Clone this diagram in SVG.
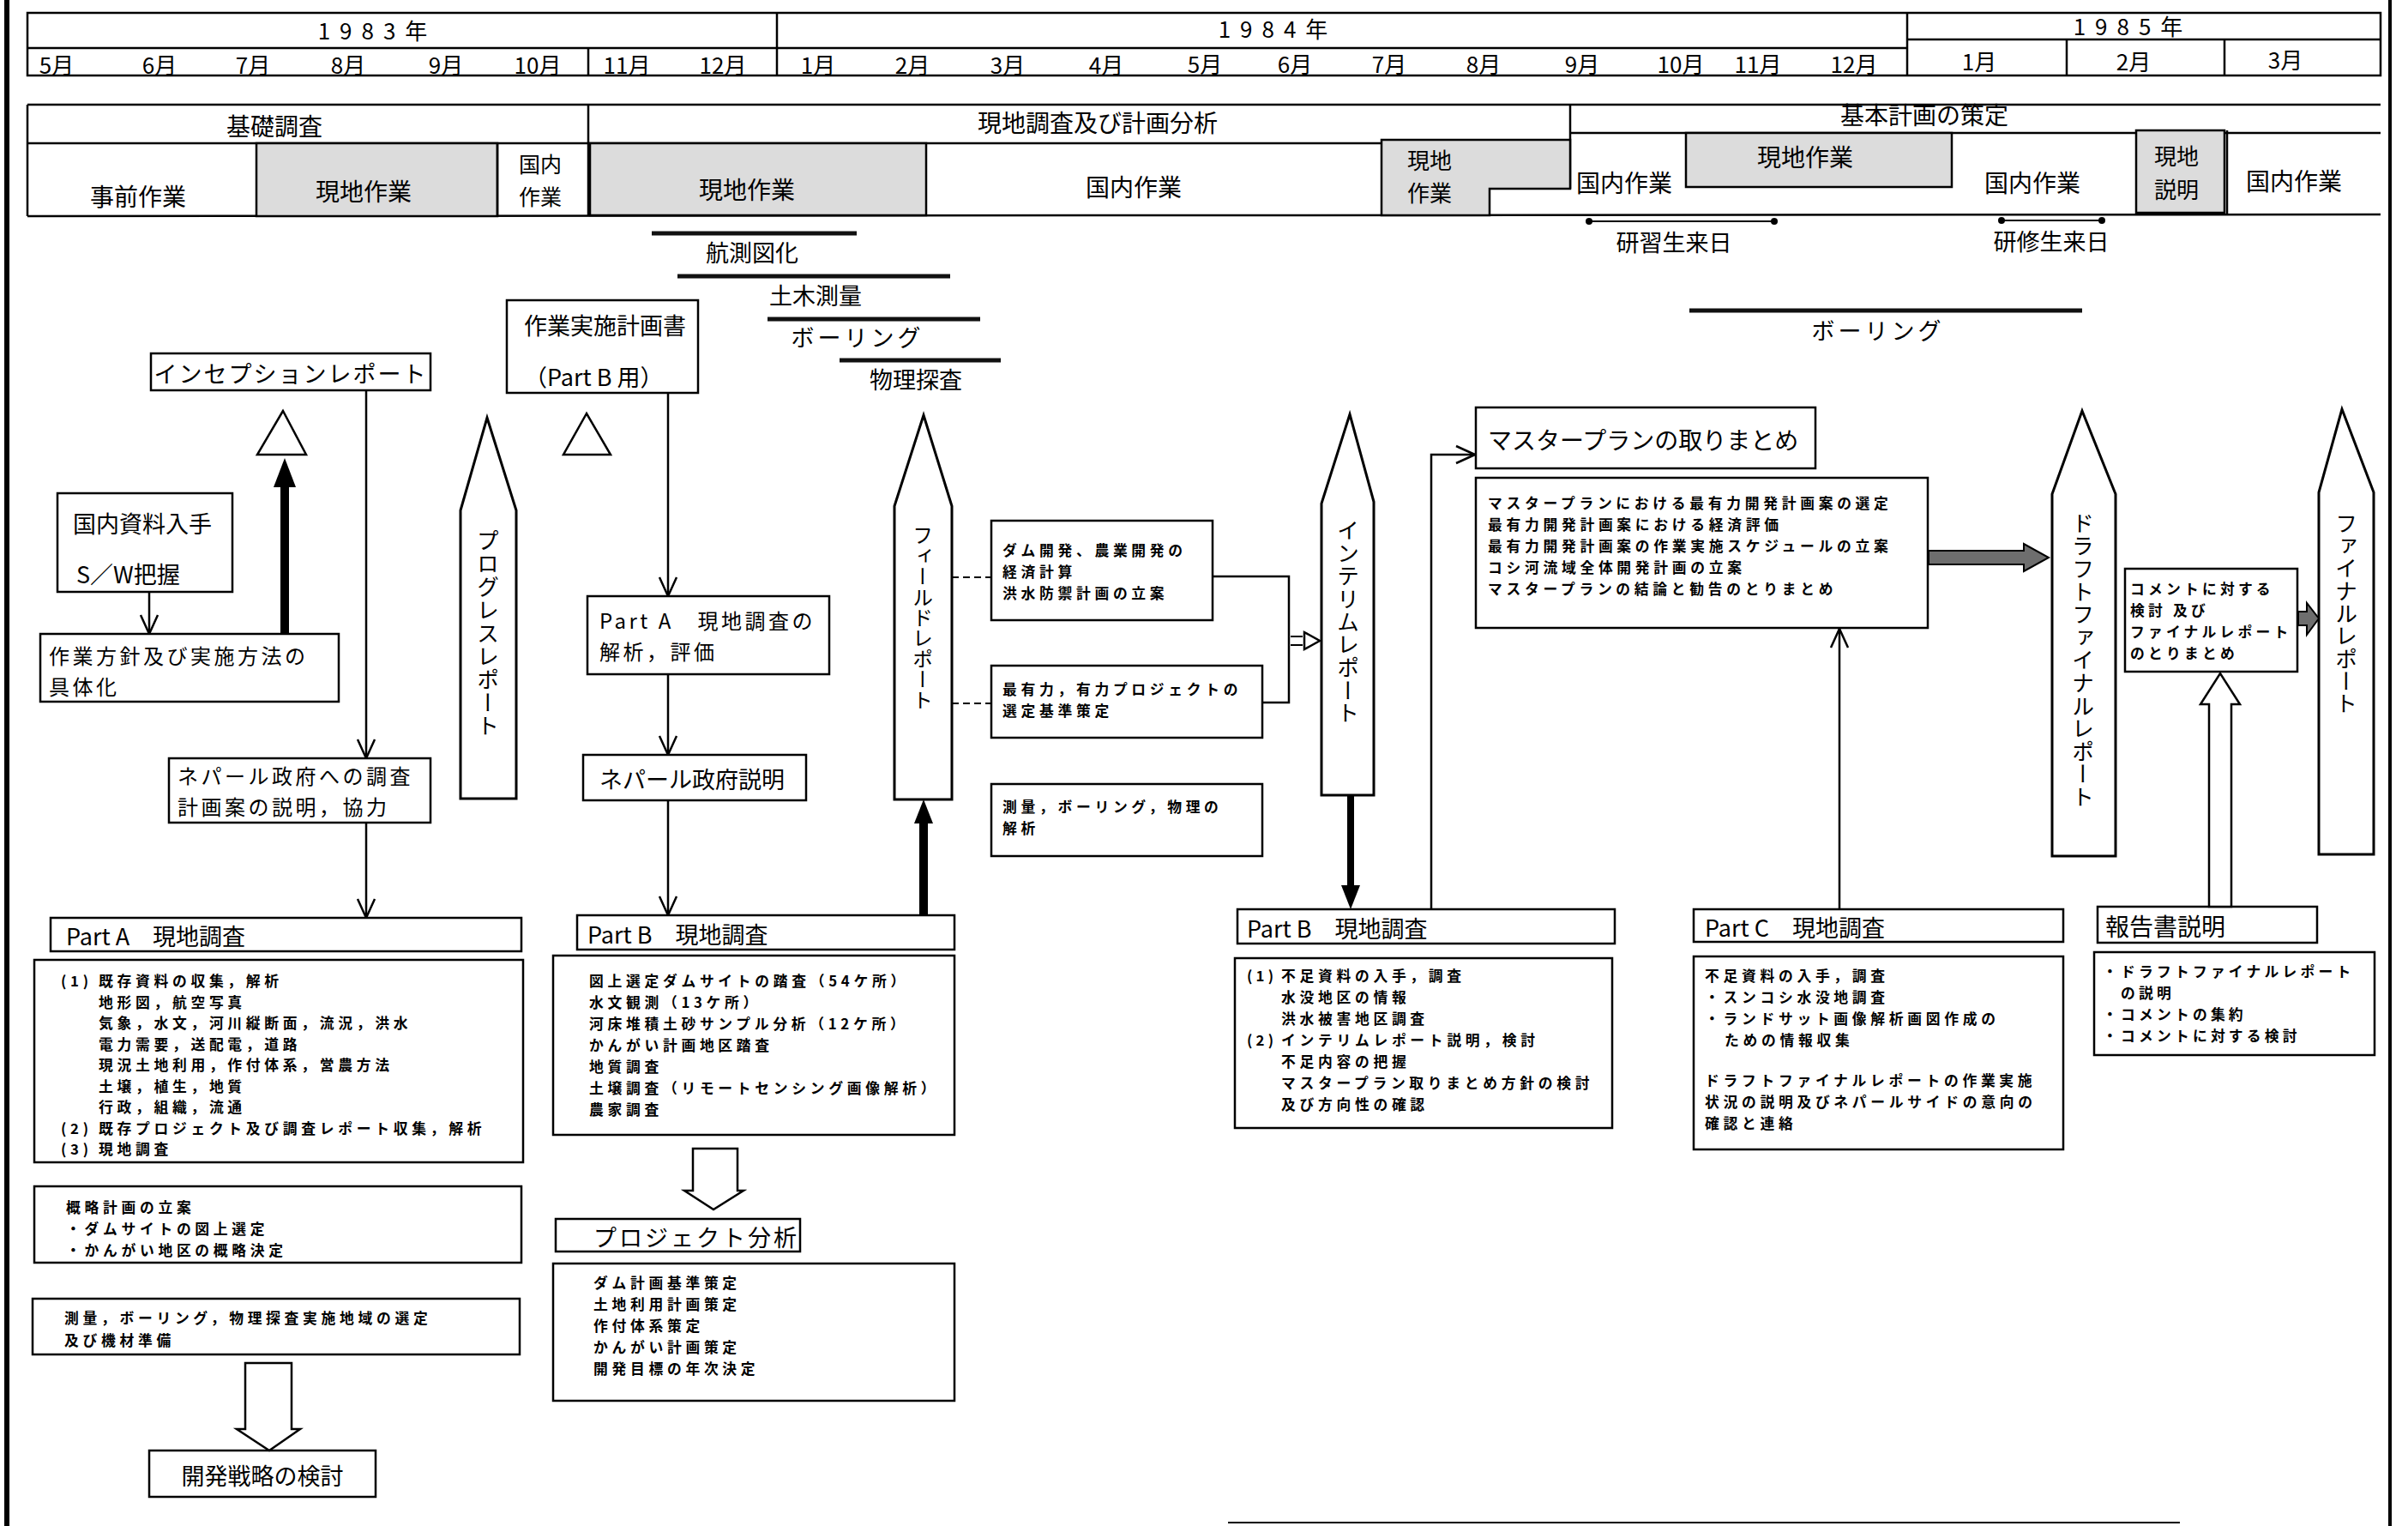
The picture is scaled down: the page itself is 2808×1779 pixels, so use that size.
<svg xmlns="http://www.w3.org/2000/svg" width="2808" height="1779" viewBox="0 0 2808 1779">
<defs>
<style>
text{font-family:"Noto Sans CJK JP","Noto Sans",sans-serif;fill:#000;dominant-baseline:central}
.h{font-size:28px}
.mo{font-size:26px}
.m{font-size:27px}
.m2{font-size:24px;letter-spacing:3.5px}
.s{font-size:16.8px;font-weight:700;letter-spacing:4.7px}
.s2{font-size:16.8px;font-weight:700;letter-spacing:4.2px}
.c{text-anchor:middle}
.v{writing-mode:vertical-rl;dominant-baseline:central;font-size:26px}
.b{fill:#fff;stroke:#000;stroke-width:2.5}
.l{fill:none;stroke:#000;stroke-width:2.5}
.sh{fill:#dcdcdc;stroke:#000;stroke-width:2.5}
.bar{stroke:#111;stroke-width:5}
.pen{fill:#fff;stroke:#000;stroke-width:3}
.thick{fill:#000;stroke:none}
.hatch{fill:#6e6e6e;stroke:#000;stroke-width:2}
</style>
<marker id="v" viewBox="0 0 24 24" refX="23" refY="12" markerWidth="24" markerHeight="24" markerUnits="userSpaceOnUse" orient="auto">
<path d="M1,2 L23,12 L1,22" fill="none" stroke="#000" stroke-width="2.5"/>
</marker>
</defs>

<g id="page-border">
<line x1="8" y1="0" x2="8" y2="1779" stroke="#000" stroke-width="6"/>
<line x1="2787" y1="0" x2="2787" y2="1779" stroke="#000" stroke-width="4"/>
<line x1="1432" y1="1775" x2="2542" y2="1775" stroke="#000" stroke-width="2"/>
</g>

<g id="timeline">
<rect x="32" y="15" width="2744" height="73" class="l"/>
<line x1="32" y1="56" x2="2224" y2="56" class="l"/>
<line x1="2224" y1="46" x2="2776" y2="46" class="l"/>
<line x1="906" y1="15" x2="906" y2="88" class="l"/>
<line x1="2224" y1="15" x2="2224" y2="88" class="l"/>
<line x1="686" y1="56" x2="686" y2="88" class="l"/>
<line x1="2410" y1="46" x2="2410" y2="88" class="l"/>
<line x1="2594" y1="46" x2="2594" y2="88" class="l"/>
<text x="440" y="34" class="mo c" letter-spacing="11">1983年</text>
<text x="1490" y="32" class="mo c" letter-spacing="11">1984年</text>
<text x="2487" y="29" class="mo c" letter-spacing="11">1985年</text>
<text x="66" y="74" class="mo c">5月</text>
<text x="186" y="74" class="mo c">6月</text>
<text x="295" y="74" class="mo c">7月</text>
<text x="406" y="74" class="mo c">8月</text>
<text x="520" y="74" class="mo c">9月</text>
<text x="627" y="74" class="mo c">10月</text>
<text x="731" y="74" class="mo c">11月</text>
<text x="843" y="74" class="mo c">12月</text>
<text x="954" y="74" class="mo c">1月</text>
<text x="1064" y="74" class="mo c">2月</text>
<text x="1175" y="74" class="mo c">3月</text>
<text x="1290" y="74" class="mo c">4月</text>
<text x="1405" y="73" class="mo c">5月</text>
<text x="1510" y="73" class="mo c">6月</text>
<text x="1620" y="73" class="mo c">7月</text>
<text x="1730" y="73" class="mo c">8月</text>
<text x="1845" y="73" class="mo c">9月</text>
<text x="1960" y="73" class="mo c">10月</text>
<text x="2050" y="73" class="mo c">11月</text>
<text x="2162" y="73" class="mo c">12月</text>
<text x="2308" y="70" class="mo c">1月</text>
<text x="2488" y="70" class="mo c">2月</text>
<text x="2665" y="68" class="mo c">3月</text>
</g>

<g id="phases">
<line x1="32" y1="122" x2="2776" y2="122" class="l"/>
<line x1="32" y1="122" x2="32" y2="252" class="l"/>
<line x1="32" y1="167" x2="1831" y2="167" class="l"/>
<line x1="1831" y1="155" x2="2776" y2="155" class="l"/>
<line x1="686" y1="122" x2="686" y2="252" class="l"/>
<line x1="1831" y1="122" x2="1831" y2="220" class="l"/>
<line x1="32" y1="252" x2="2776" y2="250" class="l"/>
<text x="320" y="146" class="h c">基礎調査</text>
<text x="1280" y="142" class="h c">現地調査及び計画分析</text>
<text x="2244" y="133" class="h c">基本計画の策定</text>
<rect x="299" y="167" width="281" height="85" class="sh"/>
<line x1="580" y1="167" x2="580" y2="252" class="l"/>
<rect x="688" y="167" width="392" height="84" class="sh"/>
<polygon points="1611,163 1831,163 1831,220 1737,220 1737,251 1611,251" class="sh"/>
<rect x="1966" y="155" width="310" height="63" class="sh"/>
<rect x="2491" y="152" width="103" height="96" class="sh"/>
<line x1="2597" y1="152" x2="2597" y2="249" class="l"/>
<text x="161" y="228" class="h c">事前作業</text>
<text x="424" y="222" class="h c">現地作業</text>
<text x="630" y="190" class="c" style="font-size:25px">国内</text>
<text x="630" y="228" class="c" style="font-size:25px">作業</text>
<text x="871" y="220" class="h c">現地作業</text>
<text x="1322" y="217" class="h c">国内作業</text>
<text x="1667" y="185" class="mo c">現地</text>
<text x="1667" y="223" class="mo c">作業</text>
<text x="1894" y="212" class="h c">国内作業</text>
<text x="2105" y="182" class="h c">現地作業</text>
<text x="2370" y="212" class="h c">国内作業</text>
<text x="2538" y="180" class="mo c">現地</text>
<text x="2538" y="219" class="mo c">説明</text>
<text x="2675" y="210" class="h c">国内作業</text>
</g>

<g id="schedule-bars">
<line x1="760" y1="272" x2="999" y2="272" class="bar"/>
<text x="877" y="293" class="m c">航測図化</text>
<line x1="790" y1="322" x2="1108" y2="322" class="bar"/>
<text x="951" y="343" class="m c">土木測量</text>
<line x1="895" y1="372" x2="1143" y2="372" class="bar"/>
<text x="1000" y="392" class="m c" letter-spacing="4">ボーリング</text>
<line x1="979" y1="420" x2="1167" y2="420" class="bar"/>
<text x="1068" y="441" class="m c">物理探査</text>
<line x1="1970" y1="362" x2="2428" y2="362" class="bar"/>
<text x="2190" y="384" class="m c" letter-spacing="4">ボーリング</text>
</g>

<g id="trainees">
<line x1="1853" y1="258" x2="2069" y2="258" stroke="#000" stroke-width="2"/>
<circle cx="1853" cy="258" r="4"/><circle cx="2069" cy="258" r="4"/>
<text x="1952" y="281" class="m c">研習生来日</text>
<line x1="2334" y1="257" x2="2451" y2="257" stroke="#000" stroke-width="2"/>
<circle cx="2334" cy="257" r="4"/><circle cx="2451" cy="257" r="4"/>
<text x="2392" y="280" class="m c">研修生来日</text>
</g>

<g id="inception-report">
<rect x="176" y="412" width="326" height="43" class="b"/>
<text x="339" y="434" class="m c" letter-spacing="2">インセプションレポート</text>
</g>
<g id="milestone-1"><polygon points="330,479 300,530 357,530" class="b"/></g>
<g id="domestic-data">
<rect x="67" y="575" width="204" height="115" class="b"/>
<text x="85" y="609" class="m">国内資料入手</text>
<text x="89" y="668" class="m">S／W把握</text>
</g>
<g id="work-policy">
<rect x="47" y="739" width="348" height="79" class="b"/>
<text x="57" y="763" class="m2">作業方針及び実施方法の</text>
<text x="57" y="799" class="m2">具体化</text>
</g>
<g id="nepal-explain-1">
<rect x="197" y="884" width="305" height="75" class="b"/>
<text x="207" y="903" class="m2" letter-spacing="4">ネパール政府への調査</text>
<text x="207" y="939" class="m2" letter-spacing="4">計画案の説明，協力</text>
</g>
<g id="progress-report">
<polygon points="568,487 602,595 602,931 537,931 537,595" class="pen"/>
<text x="569" y="617" class="v" letter-spacing="1">プログレスレポート</text>
</g>
<g id="partA-survey">
<rect x="59" y="1070" width="549" height="39" class="b"/>
<text x="77" y="1090" class="m">Part A　現地調査</text>
</g>
<g id="partA-details">
<rect x="40" y="1119" width="570" height="236" class="b"/>
<text x="71" y="1143" class="s">(1)</text><text x="115" y="1143" class="s">既存資料の収集，解析</text>
<text x="115" y="1167.5" class="s">地形図，航空写真</text>
<text x="115" y="1192" class="s">気象，水文，河川縦断面，流況，洪水</text>
<text x="115" y="1216.5" class="s">電力需要，送配電，道路</text>
<text x="115" y="1241" class="s">現況土地利用，作付体系，営農方法</text>
<text x="115" y="1265.5" class="s">土壌，植生，地質</text>
<text x="115" y="1290" class="s">行政，組織，流通</text>
<text x="71" y="1314.5" class="s">(2)</text><text x="115" y="1314.5" class="s">既存プロジェクト及び調査レポート収集，解析</text>
<text x="71" y="1339" class="s">(3)</text><text x="115" y="1339" class="s">現地調査</text>
</g>
<g id="outline-plan">
<rect x="40" y="1383" width="568" height="89" class="b"/>
<text x="77" y="1407" class="s">概略計画の立案</text>
<text x="77" y="1432" class="s">・ダムサイトの図上選定</text>
<text x="77" y="1457" class="s">・かんがい地区の概略決定</text>
</g>
<g id="survey-area">
<rect x="38" y="1514" width="568" height="65" class="b"/>
<text x="75" y="1536" class="s">測量，ボーリング，物理探査実施地域の選定</text>
<text x="75" y="1562" class="s">及び機材準備</text>
</g>
<g id="dev-strategy">
<rect x="174" y="1691" width="264" height="54" class="b"/>
<text x="306" y="1719" class="m c">開発戦略の検討</text>
</g>

<g id="work-plan">
<rect x="591" y="350" width="223" height="108" class="b"/>
<text x="611" y="378" class="m">作業実施計画書</text>
<text x="611" y="438" class="m">（Part B 用）</text>
</g>
<g id="milestone-2"><polygon points="684,482 657,530 712,530" class="b"/></g>
<g id="partA-analysis">
<rect x="685" y="695" width="282" height="91" class="b"/>
<text x="699" y="722" class="m2" letter-spacing="3">Part A　現地調査の</text>
<text x="699" y="758" class="m2" letter-spacing="3">解析，評価</text>
</g>
<g id="nepal-explain-2">
<rect x="680" y="880" width="260" height="53" class="b"/>
<text x="699" y="907" class="m">ネパール政府説明</text>
</g>
<g id="partB-survey-1">
<rect x="673" y="1067" width="440" height="40" class="b"/>
<text x="685" y="1088" class="m">Part B　現地調査</text>
</g>
<g id="partB-details-1">
<rect x="645" y="1114" width="468" height="209" class="b"/>
<text x="687" y="1143" class="s">図上選定ダムサイトの踏査（54ケ所）</text>
<text x="687" y="1168" class="s">水文観測（13ケ所）</text>
<text x="687" y="1193" class="s">河床堆積土砂サンプル分析（12ケ所）</text>
<text x="687" y="1218" class="s">かんがい計画地区踏査</text>
<text x="687" y="1243" class="s">地質調査</text>
<text x="687" y="1268" class="s">土壌調査（リモートセンシング画像解析）</text>
<text x="687" y="1293" class="s">農家調査</text>
</g>
<g id="project-analysis">
<rect x="648" y="1421" width="285" height="38" class="b"/>
<text x="692" y="1441" class="m" letter-spacing="3">プロジェクト分析</text>
</g>
<g id="project-details">
<rect x="645" y="1473" width="468" height="160" class="b"/>
<text x="692" y="1495" class="s">ダム計画基準策定</text>
<text x="692" y="1520" class="s">土地利用計画策定</text>
<text x="692" y="1545" class="s">作付体系策定</text>
<text x="692" y="1570" class="s">かんがい計画策定</text>
<text x="692" y="1595" class="s">開発目標の年次決定</text>
</g>
<g id="field-report">
<polygon points="1077,484 1110,590 1110,932 1043,932 1043,590" class="pen"/>
<text x="1076" y="612" class="v" style="font-size:24px">フィールドレポート</text>
</g>
<g id="economic-calc">
<rect x="1156" y="607" width="258" height="116" class="b"/>
<text x="1169" y="641" class="s">ダム開発、農業開発の</text>
<text x="1169" y="666" class="s">経済計算</text>
<text x="1169" y="691" class="s">洪水防禦計画の立案</text>
</g>
<g id="selection-criteria">
<rect x="1156" y="776" width="316" height="84" class="b"/>
<text x="1169" y="803" class="s">最有力，有力プロジェクトの</text>
<text x="1169" y="828" class="s">選定基準策定</text>
</g>
<g id="survey-analysis">
<rect x="1156" y="914" width="316" height="84" class="b"/>
<text x="1169" y="940" class="s">測量，ボーリング，物理の</text>
<text x="1169" y="965" class="s">解析</text>
</g>
<g id="interim-report">
<polygon points="1574,483 1602,585 1602,927 1541,927 1541,587" class="pen"/>
<text x="1572" y="605" class="v" letter-spacing="0.7">インテリムレポート</text>
</g>
<g id="master-plan">
<rect x="1721" y="475" width="396" height="71" class="b"/>
<text x="1735" y="512" class="h">マスタープランの取りまとめ</text>
</g>
<g id="master-details">
<rect x="1721" y="557" width="527" height="175" class="b"/>
<text x="1735" y="586" class="s">マスタープランにおける最有力開発計画案の選定</text>
<text x="1735" y="611" class="s">最有力開発計画案における経済評価</text>
<text x="1735" y="636" class="s">最有力開発計画案の作業実施スケジュールの立案</text>
<text x="1735" y="661" class="s">コシ河流域全体開発計画の立案</text>
<text x="1735" y="686" class="s">マスタープランの結論と勧告のとりまとめ</text>
</g>
<g id="draft-final-report">
<polygon points="2428,479 2467,576 2467,998 2393,998 2393,576" class="pen"/>
<text x="2429" y="597" class="v" letter-spacing="0.6">ドラフトファイナルレポート</text>
</g>
<g id="comment-review">
<rect x="2478" y="663" width="201" height="120" class="b"/>
<text x="2484" y="686" class="s2">コメントに対する</text>
<text x="2484" y="711" class="s2">検討 及び</text>
<text x="2484" y="736" class="s2">ファイナルレポート</text>
<text x="2484" y="761" class="s2">のとりまとめ</text>
</g>
<g id="final-report">
<polygon points="2731,477 2768,574 2768,996 2704,996 2704,574" class="pen"/>
<text x="2736" y="597" class="v" letter-spacing="0.3">ファイナルレポート</text>
</g>
<g id="partB-survey-2">
<rect x="1443" y="1060" width="440" height="40" class="b"/>
<text x="1454" y="1081" class="m">Part B　現地調査</text>
</g>
<g id="partB-details-2">
<rect x="1440" y="1117" width="440" height="198" class="b"/>
<text x="1454" y="1137" class="s2">(1)</text><text x="1494" y="1137" class="s">不足資料の入手，調査</text>
<text x="1494" y="1162" class="s">水没地区の情報</text>
<text x="1494" y="1187" class="s">洪水被害地区調査</text>
<text x="1454" y="1212" class="s2">(2)</text><text x="1494" y="1212" class="s">インテリムレポート説明，検討</text>
<text x="1494" y="1237" class="s">不足内容の把握</text>
<text x="1494" y="1262" class="s">マスタープラン取りまとめ方針の検討</text>
<text x="1494" y="1287" class="s">及び方向性の確認</text>
</g>
<g id="partC-survey">
<rect x="1975" y="1060" width="431" height="38" class="b"/>
<text x="1988" y="1080" class="m">Part C　現地調査</text>
</g>
<g id="partC-details">
<rect x="1975" y="1115" width="431" height="225" class="b"/>
<text x="1988" y="1137" class="s">不足資料の入手，調査</text>
<text x="1988" y="1162" class="s">・スンコシ水没地調査</text>
<text x="1988" y="1187" class="s">・ランドサット画像解析画図作成の</text>
<text x="2011" y="1212" class="s">ための情報収集</text>
<text x="1988" y="1259" class="s">ドラフトファイナルレポートの作業実施</text>
<text x="1988" y="1284" class="s">状況の説明及びネパールサイドの意向の</text>
<text x="1988" y="1309" class="s">確認と連絡</text>
</g>
<g id="report-explain">
<rect x="2446" y="1057" width="256" height="42" class="b"/>
<text x="2455" y="1079" class="h">報告書説明</text>
</g>
<g id="report-explain-details">
<rect x="2442" y="1110" width="327" height="120" class="b"/>
<text x="2452" y="1132" class="s2">・ドラフトファイナルレポート</text>
<text x="2473" y="1157" class="s2">の説明</text>
<text x="2452" y="1182" class="s2">・コメントの集約</text>
<text x="2452" y="1207" class="s2">・コメントに対する検討</text>
</g>

<g id="connectors">
<line x1="427" y1="455" x2="427" y2="884" class="l" marker-end="url(#v)"/>
<line x1="174" y1="690" x2="174" y2="739" class="l" marker-end="url(#v)"/>
<rect x="327" y="564" width="10" height="174" class="thick"/>
<polygon points="319,568 332,534 345,568" class="thick"/>
<line x1="427" y1="959" x2="427" y2="1070" class="l" marker-end="url(#v)"/>
<polygon points="286,1589 340,1589 340,1666 350,1666 314,1691 276,1666 286,1666" class="b"/>
<line x1="779" y1="458" x2="779" y2="695" class="l" marker-end="url(#v)"/>
<line x1="779" y1="786" x2="779" y2="880" class="l" marker-end="url(#v)"/>
<line x1="779" y1="933" x2="779" y2="1067" class="l" marker-end="url(#v)"/>
<rect x="1072" y="956" width="10" height="111" class="thick"/>
<polygon points="1066,960 1077,932 1088,960" class="thick"/>
<polygon points="808,1339 860,1339 860,1388 867,1388 832,1410 798,1388 808,1388" class="b"/>
<line x1="1110" y1="673" x2="1156" y2="673" stroke="#000" stroke-width="2" stroke-dasharray="8,5"/>
<line x1="1110" y1="820" x2="1156" y2="820" stroke="#000" stroke-width="2" stroke-dasharray="8,5"/>
<polyline points="1414,672 1503,672 1503,819 1472,819" class="l"/>
<line x1="1505" y1="742" x2="1519" y2="742" stroke="#000" stroke-width="2"/>
<line x1="1505" y1="752" x2="1519" y2="752" stroke="#000" stroke-width="2"/>
<polygon points="1521,737 1539,747 1521,757" fill="#fff" stroke="#000" stroke-width="2.5"/>
<rect x="1571" y="927" width="8" height="108" class="thick"/>
<polygon points="1564,1032 1586,1032 1575,1060" class="thick"/>
<polyline points="1669,1060 1669,530 1720,530" class="l" marker-end="url(#v)"/>
<line x1="2145" y1="1060" x2="2145" y2="733" class="l" marker-end="url(#v)"/>
<polygon points="2249,642 2360,642 2360,634 2389,650 2360,666 2360,658 2249,658" class="hatch"/>
<polygon points="2680,713 2690,713 2690,703 2704,721 2690,740 2690,729 2680,729" class="hatch"/>
<polygon points="2576,1057 2576,821 2566,821 2589,785 2612,821 2602,821 2602,1057" class="b"/>
</g>
</svg>
